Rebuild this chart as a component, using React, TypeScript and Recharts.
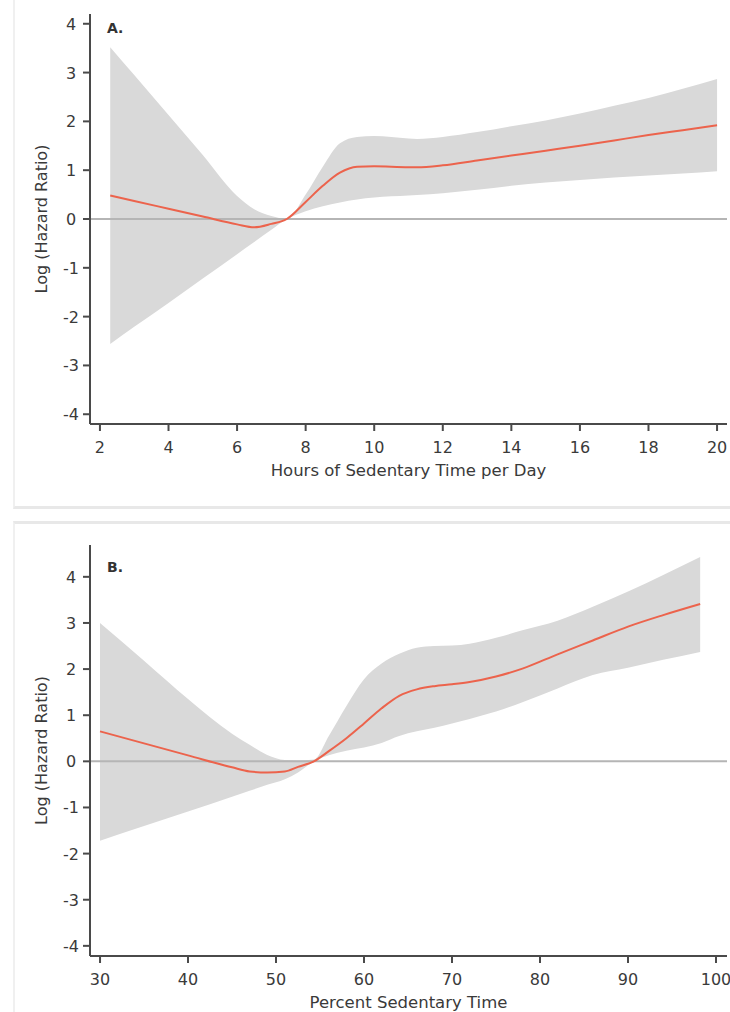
import React from 'react';
import { ComposedChart, Area, Line, XAxis, YAxis, ReferenceLine } from 'recharts';

// Panel A: hours of sedentary time per day
const hoursX = [2.3, 3, 4, 5, 6, 6.5, 7, 7.45, 8, 8.5, 9, 9.5, 10, 11, 11.25, 12, 13, 14, 15, 16, 17, 18, 19, 20];
const hoursLogHR = [0.48, 0.37, 0.21, 0.05, -0.11, -0.17, -0.1, 0, 0.35, 0.68, 0.95, 1.07, 1.08, 1.06, 1.06, 1.1, 1.2, 1.3, 1.4, 1.5, 1.61, 1.72, 1.82, 1.92];
const hoursLower = [-2.56, -2.21, -1.72, -1.22, -0.72, -0.47, -0.22, 0, 0.16, 0.26, 0.34, 0.4, 0.44, 0.48, 0.49, 0.53, 0.6, 0.68, 0.75, 0.8, 0.85, 0.89, 0.93, 0.98];
const hoursUpper = [3.52, 2.95, 2.13, 1.31, 0.47, 0.2, 0.06, 0, 0.5, 1.07, 1.55, 1.68, 1.7, 1.65, 1.64, 1.68, 1.78, 1.9, 2.02, 2.16, 2.32, 2.48, 2.67, 2.87];
const hoursTicks = [2, 4, 6, 8, 10, 12, 14, 16, 18, 20];

// Panel B: percent sedentary time
const pctX = [30, 35, 40, 45, 47, 49, 51, 52.5, 54.3, 56, 58, 60, 62, 64, 66, 68, 70, 72, 75, 78, 82, 86, 90, 94, 98.2];
const pctLogHR = [0.65, 0.39, 0.13, -0.13, -0.22, -0.24, -0.22, -0.12, 0, 0.22, 0.5, 0.82, 1.15, 1.42, 1.56, 1.63, 1.67, 1.72, 1.84, 2.01, 2.32, 2.62, 2.92, 3.17, 3.41];
const pctLower = [-1.72, -1.4, -1.09, -0.77, -0.64, -0.51, -0.39, -0.24, 0, 0.13, 0.23, 0.3, 0.4, 0.55, 0.65, 0.73, 0.82, 0.92, 1.08, 1.28, 1.58, 1.87, 2.03, 2.2, 2.37];
const pctUpper = [3.0, 2.18, 1.35, 0.6, 0.36, 0.14, 0.03, 0.02, 0.04, 0.55, 1.2, 1.78, 2.12, 2.33, 2.46, 2.5, 2.51, 2.55, 2.68, 2.84, 3.05, 3.35, 3.68, 4.04, 4.43];
const pctTicks = [30, 40, 50, 60, 70, 80, 90, 100];

const logTicks = [-4, -3, -2, -1, 0, 1, 2, 3, 4];

const FONT = '"DejaVu Sans", sans-serif';
const INK = '#3a3a3a';
const AXIS = '#4a4a4a';

const buildRows = (xs: number[], mid: number[], lo: number[], hi: number[]) =>
  xs.map((x, i) => ({ x, mid: mid[i], band: [lo[i], hi[i]] }));

const XTick = ({ x, y, payload }: any) => (
  <text x={x} y={y + 20} textAnchor="middle" fill={INK} fontSize={16} fontFamily={FONT}>
    {payload.value}
  </text>
);

const YTick = ({ x, y, payload }: any) => (
  <text x={x - 10} y={y + 6} textAnchor="middle" fill={INK} fontSize={16} fontFamily={FONT}>
    {payload.value}
  </text>
);

const XLabel = ({ viewBox, text }: any) => (
  <text
    x={viewBox.x + viewBox.width / 2}
    y={viewBox.y + 52}
    textAnchor="middle"
    fill={INK}
    fontSize={16.5}
    fontFamily={FONT}
  >
    {text}
  </text>
);

const YLabel = ({ viewBox }: any) => {
  const cx = 47;
  const cy = viewBox.y + viewBox.height / 2;
  return (
    <text
      x={cx}
      y={cy}
      transform={`rotate(-90, ${cx}, ${cy})`}
      textAnchor="middle"
      fill={INK}
      fontSize={16}
      fontFamily={FONT}
    >
      Log (Hazard Ratio)
    </text>
  );
};

interface PanelProps {
  rows: { x: number; mid: number; band: number[] }[];
  xDomain: [number, number];
  yDomain: [number, number];
  xTicks: number[];
  xLabel: string;
  height: number;
  top: number;
  xAxisHeight: number;
}

function Panel({ rows, xDomain, yDomain, xTicks, xLabel, height, top, xAxisHeight }: PanelProps) {
  return (
    <ComposedChart width={730} height={height} data={rows} margin={{ top, right: 3, bottom: 0, left: 0 }}>
      <ReferenceLine y={0} stroke="#b5b5b5" strokeWidth={2} />
      <XAxis
        dataKey="x"
        type="number"
        domain={xDomain}
        ticks={xTicks}
        allowDataOverflow
        height={xAxisHeight}
        stroke={AXIS}
        strokeWidth={2}
        tickSize={7}
        tickMargin={2}
        tick={<XTick />}
        label={<XLabel text={xLabel} />}
      />
      <YAxis
        type="number"
        domain={yDomain}
        ticks={logTicks}
        allowDataOverflow
        width={90}
        stroke={AXIS}
        strokeWidth={2}
        tickSize={7}
        tickMargin={2}
        tick={<YTick />}
        label={<YLabel />}
      />
      <Area
        dataKey="band"
        type="monotone"
        fill="#d9d9d9"
        fillOpacity={1}
        stroke="none"
        isAnimationActive={false}
        activeDot={false}
      />
      <Line
        dataKey="mid"
        type="monotone"
        stroke="#ec634c"
        strokeWidth={2}
        dot={false}
        activeDot={false}
        isAnimationActive={false}
      />
    </ComposedChart>
  );
}

const tagStyle: React.CSSProperties = {
  position: 'absolute',
  left: 107,
  fontFamily: FONT,
  fontSize: 14,
  fontWeight: 'bold',
  color: '#333',
  lineHeight: '14px',
};

export default function App() {
  const hoursRows = buildRows(hoursX, hoursLogHR, hoursLower, hoursUpper);
  const pctRows = buildRows(pctX, pctLogHR, pctLower, pctUpper);

  return (
    <div style={{ position: 'absolute', left: 0, top: 0, width: 730, height: 1012, background: '#fff', overflow: 'hidden' }}>
      {/* panel frames */}
      <div style={{ position: 'absolute', left: 13, top: -4, width: 730, height: 510, borderLeft: '2px solid #f0f0f0', borderBottom: '3px solid #e8e8e8' }} />
      <div style={{ position: 'absolute', left: 13, top: 521, width: 730, height: 500, borderLeft: '2px solid #f0f0f0', borderTop: '3px solid #e8e8e8' }} />

      <div style={{ position: 'absolute', left: 0, top: 0 }}>
        <Panel
          rows={hoursRows}
          xDomain={[1.71, 20.29]}
          yDomain={[-4.2, 4.2]}
          xTicks={hoursTicks}
          xLabel="Hours of Sedentary Time per Day"
          height={507}
          top={14}
          xAxisHeight={83}
        />
      </div>
      <div style={{ ...tagStyle, top: 21 }}>A.</div>

      <div style={{ position: 'absolute', left: 0, top: 507 }}>
        <Panel
          rows={pctRows}
          xDomain={[28.86, 101.25]}
          yDomain={[-4.22, 4.69]}
          xTicks={pctTicks}
          xLabel="Percent Sedentary Time"
          height={505}
          top={38}
          xAxisHeight={56}
        />
      </div>
      <div style={{ ...tagStyle, top: 560 }}>B.</div>
    </div>
  );
}
